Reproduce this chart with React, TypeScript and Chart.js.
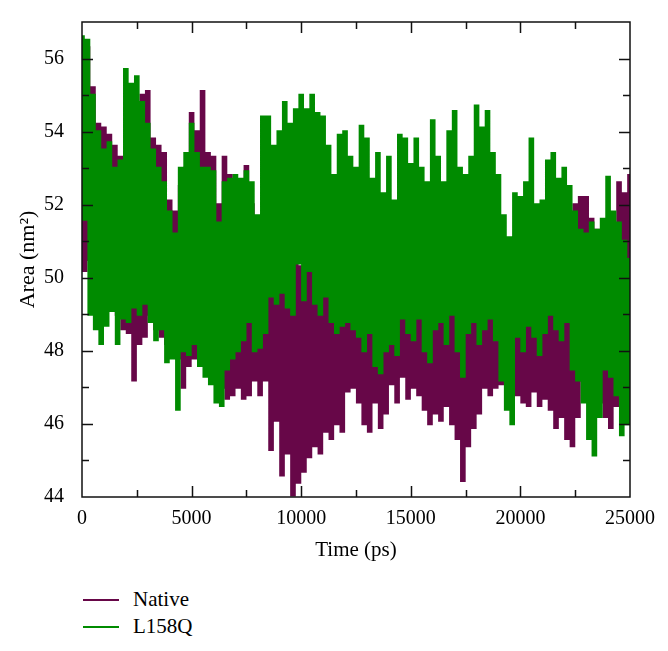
import React, { useEffect, useRef } from 'react';
import { Chart, registerables } from 'chart.js';

Chart.register(...registerables);

// Sampling interval of the trajectories (ps)
const TIME_STEP_PS = 125;

// Axis ranges / tick labels
const X_MIN = 0;
const X_MAX = 25000;
const X_TICK_STEP = 2500;
const X_LABELED = [0, 5000, 10000, 15000, 20000, 25000];
const Y_MIN = 44;
const Y_MAX = 57;
const Y_TICK_STEP = 1;
const Y_LABELED = [44, 46, 48, 50, 52, 54, 56];

// Solvent-accessible area (nm^2), every 125 ps
const NATIVE_AREA = [
  55.9, 50.2, 56.3, 50.5, 55.2, 49.5, 54.2, 49.0, 54.1, 49.2, 53.9, 49.6, 53.6, 49.0, 53.3, 48.6, 52.6, 48.5, 52.9, 47.2,
  53.5, 48.2, 55.0, 48.4, 55.1, 49.0, 53.8, 48.6, 53.6, 48.4, 53.4, 48.2, 52.1, 48.0, 51.8, 47.8, 52.5, 47.0, 53.0, 47.6,
  54.5, 47.8, 54.0, 48.0, 55.1, 47.7, 53.4, 47.5, 53.3, 47.4, 52.0, 47.0, 53.3, 46.7, 52.8, 46.8, 52.2, 47.0, 52.5, 46.7,
  53.05, 46.8, 52.0, 47.2, 51.2, 46.8, 51.0, 47.2, 50.4, 45.3, 50.6, 46.1, 50.2, 44.6, 50.5, 45.2, 50.0, 44.05, 50.8, 44.4,
  50.3, 44.7, 50.9, 45.1, 50.2, 45.4, 50.0, 45.2, 50.6, 45.8, 50.4, 45.6, 50.0, 46.0, 50.2, 45.8, 50.5, 46.9, 50.0, 47.0,
  50.3, 46.6, 50.1, 46.0, 49.8, 45.8, 50.0, 46.6, 49.6, 45.9, 50.2, 46.3, 50.0, 47.1, 50.3, 46.6, 50.6, 47.3, 50.1, 46.7,
  50.4, 47.0, 50.6, 46.8, 50.0, 46.4, 49.8, 46.0, 50.2, 46.3, 50.5, 46.1, 50.0, 46.5, 50.4, 46.0, 49.9, 45.6, 49.6, 44.45,
  50.0, 45.4, 50.3, 45.9, 50.0, 46.3, 50.5, 47.0, 50.2, 46.8, 50.0, 47.0, 50.4, 47.1, 50.7, 47.4, 50.2, 47.3, 50.4, 46.8,
  50.0, 46.6, 50.3, 46.5, 50.6, 46.9, 50.1, 46.5, 50.4, 46.7, 50.6, 46.4, 50.2, 45.9, 50.0, 46.2, 50.9, 45.6, 51.4, 45.4,
  52.0, 46.2, 52.2, 47.2, 52.2, 47.0, 51.6, 46.9, 51.3, 46.6, 51.0, 46.2, 50.8, 45.9, 51.2, 46.5, 52.6, 46.6, 52.3, 46.5,
  52.8,
];

const L158Q_AREA = [
  56.6, 51.6, 56.5, 49.0, 55.0, 48.6, 54.0, 48.2, 53.5, 48.7, 53.7, 49.1, 53.0, 48.2, 53.2, 48.9, 55.7, 48.8, 55.3, 49.2,
  55.5, 49.0, 54.8, 49.3, 54.2, 48.8, 53.5, 48.3, 53.0, 48.6, 52.6, 47.7, 51.8, 47.8, 51.2, 46.4, 53.0, 48.0, 53.4, 47.9,
  54.2, 48.2, 53.4, 47.6, 53.0, 47.3, 53.0, 47.1, 52.9, 46.6, 51.5, 46.5, 52.6, 47.5, 52.7, 47.8, 52.8, 48.0, 52.7, 48.3,
  52.9, 48.8, 52.6, 48.0, 51.7, 48.1, 54.4, 48.5, 54.4, 49.5, 53.6, 49.3, 54.0, 49.6, 54.8, 49.2, 54.2, 49.0, 54.6, 50.4,
  55.0, 49.4, 54.6, 50.2, 55.0, 49.3, 54.5, 49.0, 54.4, 49.5, 53.6, 48.8, 52.8, 48.5, 53.9, 48.7, 54.0, 48.8, 53.3, 48.6,
  53.0, 48.4, 54.15, 48.0, 53.8, 48.5, 52.7, 47.6, 53.4, 47.4, 52.3, 48.0, 53.3, 48.2, 52.1, 47.9, 53.9, 48.9, 53.8, 48.5,
  53.1, 48.3, 53.8, 48.9, 53.0, 48.0, 52.6, 47.7, 54.3, 48.6, 53.3, 48.8, 52.6, 48.2, 54.0, 49.0, 54.55, 48.0, 53.0, 47.3,
  52.8, 48.5, 53.3, 48.8, 54.7, 48.2, 54.1, 48.6, 54.55, 48.9, 53.4, 48.3, 52.8, 47.2, 51.7, 46.4, 51.1, 46.0, 52.3, 48.4,
  52.2, 48.0, 52.6, 48.7, 53.8, 48.4, 52.0, 47.9, 52.1, 48.5, 53.2, 49.0, 53.4, 48.6, 52.7, 48.3, 53.0, 48.8, 52.5, 47.5,
  51.8, 47.2, 51.3, 46.6, 51.2, 45.6, 51.5, 45.15, 51.3, 46.2, 51.6, 47.5, 52.75, 47.3, 51.8, 46.8, 51.5, 45.7, 51.0, 46.0,
  50.5,
];

const SERIES_NAMES = ['Native', 'L158Q'];
const SERIES_COLORS = ['#670748', '#008b00'];

const FONT = "'Liberation Serif', 'Times New Roman', serif";

const toPoints = (values: number[]) =>
  values.map((v, i) => ({ x: i * TIME_STEP_PS, y: v }));

const frameTicksPlugin = {
  id: 'frameTicks',
  afterDatasetsDraw(chart: any) {
    const { ctx, chartArea, scales } = chart;
    const { left, right, top, bottom } = chartArea;
    const xs = scales.x;
    const ys = scales.y;
    ctx.save();
    ctx.strokeStyle = '#111';
    ctx.lineWidth = 1.5;
    ctx.beginPath();
    xs.ticks.forEach((t: any) => {
      const v = t.value;
      if (v <= X_MIN || v >= X_MAX) return;
      const px = Math.round(xs.getPixelForValue(v)) + 0.5;
      const len = X_LABELED.includes(v) ? 11 : 7;
      ctx.moveTo(px, bottom);
      ctx.lineTo(px, bottom - len);
      ctx.moveTo(px, top);
      ctx.lineTo(px, top + len);
    });
    ys.ticks.forEach((t: any) => {
      const v = t.value;
      if (v <= Y_MIN || v >= Y_MAX) return;
      const py = Math.round(ys.getPixelForValue(v)) + 0.5;
      const len = Y_LABELED.includes(v) ? 11 : 7;
      ctx.moveTo(left, py);
      ctx.lineTo(left + len, py);
      ctx.moveTo(right, py);
      ctx.lineTo(right - len, py);
    });
    ctx.stroke();
    ctx.strokeRect(left, top, right - left, bottom - top);
    ctx.restore();
  },
};

export default function App() {
  const canvasRef = useRef<HTMLCanvasElement | null>(null);

  useEffect(() => {
    const canvas = canvasRef.current;
    if (!canvas) return;
    const chart = new Chart(canvas, {
      type: 'line',
      data: {
        datasets: [
          {
            label: SERIES_NAMES[0],
            data: toPoints(NATIVE_AREA),
            borderColor: SERIES_COLORS[0],
            backgroundColor: SERIES_COLORS[0],
            borderWidth: 2.9,
            pointRadius: 0,
            stepped: 'middle',
            fill: false,
            order: 1,
          },
          {
            label: SERIES_NAMES[1],
            data: toPoints(L158Q_AREA),
            borderColor: SERIES_COLORS[1],
            backgroundColor: SERIES_COLORS[1],
            borderWidth: 2.9,
            pointRadius: 0,
            stepped: 'middle',
            fill: false,
            order: 0,
          },
        ],
      },
      options: {
        responsive: false,
        animation: false,
        devicePixelRatio: 1,
        events: [],
        layout: { padding: { left: 0, right: 38, top: 14, bottom: 0 } },
        plugins: {
          legend: { display: false },
          tooltip: { enabled: false },
        },
        scales: {
          x: {
            type: 'linear',
            min: X_MIN,
            max: X_MAX,
            grid: { display: false },
            border: { display: false },
            ticks: {
              stepSize: X_TICK_STEP,
              autoSkip: false,
              maxRotation: 0,
              padding: 2,
              color: '#000',
              font: { family: FONT, size: 20 },
              callback: (v: any) => (X_LABELED.includes(Number(v)) ? String(v) : ''),
            },
            title: {
              display: true,
              text: 'Time (ps)',
              color: '#000',
              font: { family: FONT, size: 21 },
              padding: 0,
            },
            afterFit: (s: any) => {
              s.height = 66;
            },
          },
          y: {
            type: 'linear',
            min: Y_MIN,
            max: Y_MAX,
            grid: { display: false },
            border: { display: false },
            ticks: {
              stepSize: Y_TICK_STEP,
              autoSkip: false,
              padding: 10,
              color: '#000',
              font: { family: FONT, size: 20 },
              callback: (v: any) => (Y_LABELED.includes(Number(v)) ? String(v) : ''),
            },
            title: {
              display: true,
              text: 'Area (nm²)',
              color: '#000',
              font: { family: FONT, size: 22 },
              padding: { top: 15, bottom: 0 },
            },
            afterFit: (s: any) => {
              s.width = 82;
            },
          },
        },
      },
      plugins: [frameTicksPlugin],
    } as any);
    return () => chart.destroy();
  }, []);

  const legendLine = (top: number, color: string) => ({
    position: 'absolute' as const,
    left: 83,
    top,
    width: 36,
    height: 2,
    background: color,
  });
  const legendText = (top: number) => ({
    position: 'absolute' as const,
    left: 133,
    top,
    fontFamily: FONT,
    fontSize: 21,
    lineHeight: '24px',
    color: '#000',
    whiteSpace: 'nowrap' as const,
  });

  return (
    <div
      style={{
        position: 'absolute',
        left: 0,
        top: 0,
        width: 668,
        height: 651,
        background: '#fff',
        overflow: 'hidden',
      }}
    >
      <canvas ref={canvasRef} width={668} height={563} style={{ display: 'block' }} />
      <div style={legendLine(599, SERIES_COLORS[0])} />
      <div style={legendText(587)}>{SERIES_NAMES[0]}</div>
      <div style={legendLine(626, SERIES_COLORS[1])} />
      <div style={legendText(614)}>{SERIES_NAMES[1]}</div>
    </div>
  );
}
